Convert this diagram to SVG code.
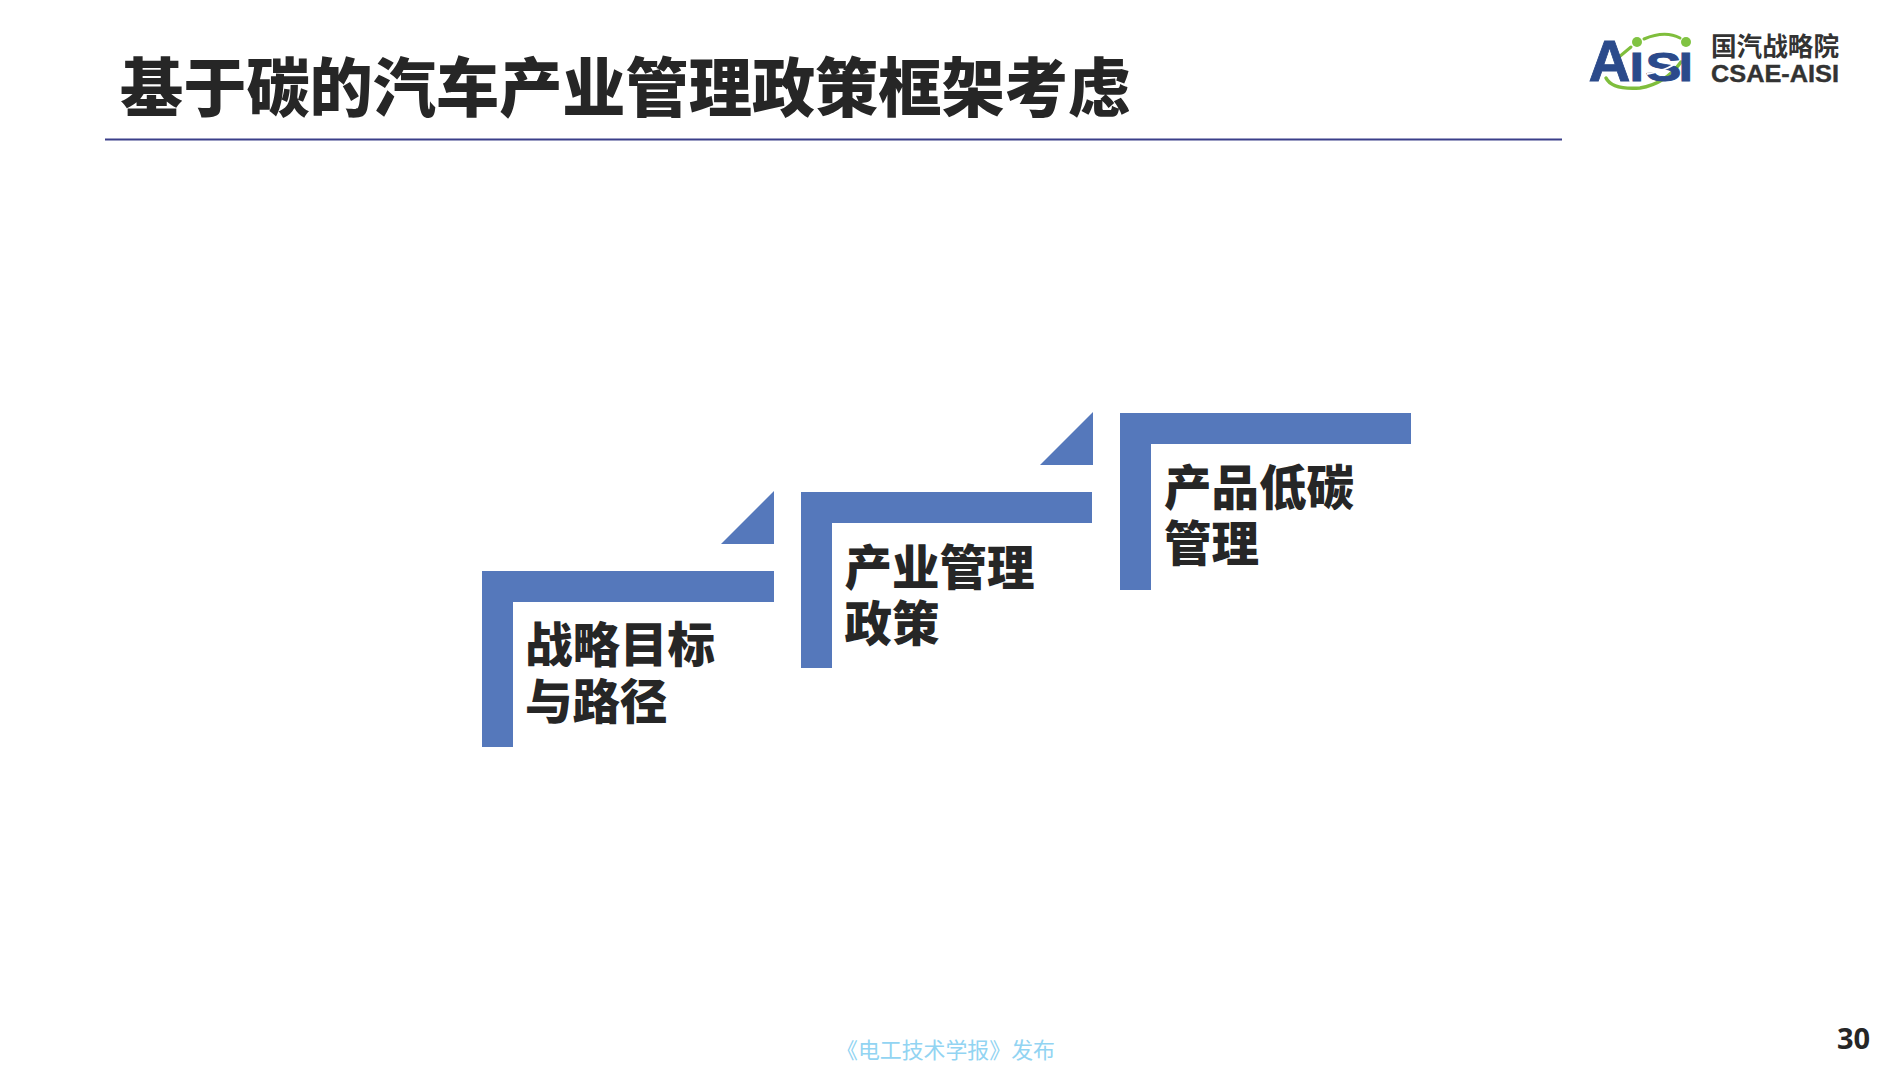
<svg xmlns="http://www.w3.org/2000/svg" width="1894" height="1065" viewBox="0 0 1894 1065">
<style>
.cjk{font-family:"Noto Sans CJK SC","Noto Sans",sans-serif}
.title{font-size:63.2px;font-weight:900;fill:#262626}
.label{font-size:47.5px;font-weight:900;fill:#262626}
.step{fill:#5578bb}
.foot{font-size:21.9px;fill:#92d4f2}
.mark{font-family:"Liberation Sans",Arial,sans-serif;font-weight:700;fill:#2b4a8b;stroke:#2b4a8b;stroke-width:.8}
.orbit{fill:none;stroke:#7fbe3c;stroke-linecap:round}
.dot{fill:#80c342}
</style>
<rect width="1894" height="1065" fill="#ffffff"/>
<g id="title">
<text class="cjk title" x="120" y="111">基于碳的汽车产业管理政策框架考虑</text>
<rect x="105" y="138.5" width="1457" height="2" fill="#3b3f8a"/>
</g>
<g id="logo">
<path class="orbit" stroke-width="3" d="M1619 57L1631 47M1644 39Q1665 30 1680 38"/>
<path class="orbit" stroke-width="3.5" d="M1606 78Q1612 90 1640 88Q1665 84 1681 62"/>
<text class="mark" x="1588.5" y="81" font-size="58" textLength="42" lengthAdjust="spacingAndGlyphs">A</text>
<text class="mark" x="1629.5" y="81" font-size="40" textLength="14.5" lengthAdjust="spacingAndGlyphs">I</text>
<text class="mark" x="1645.5" y="81" font-size="40" textLength="36" lengthAdjust="spacingAndGlyphs">S</text>
<text class="mark" x="1678.5" y="81" font-size="40" textLength="14.5" lengthAdjust="spacingAndGlyphs">I</text>
<path d="M1647 74Q1662 72 1675 64" fill="none" stroke="#ffffff" stroke-width="2"/>
<circle class="dot" cx="1637" cy="42" r="5"/>
<circle class="dot" cx="1686" cy="42" r="5"/>
<text class="cjk" x="1711" y="56" font-size="25.6" font-weight="700" fill="#333333">国汽战略院</text>
<text x="1711" y="82" font-family="Liberation Sans,Arial,sans-serif" font-size="24" font-weight="700" fill="#333333" stroke="#333333" stroke-width=".4" textLength="128" lengthAdjust="spacingAndGlyphs">CSAE-AISI</text>
</g>
<g id="node-strategy">
<path class="step" d="M482 571H774V602H513V747H482Z"/>
<path class="step" d="M774 491V544H721Z"/>
<text class="cjk label"><tspan x="525" y="662">战略目标</tspan><tspan x="525" y="719">与路径</tspan></text>
</g>
<g id="node-industry">
<path class="step" d="M801 492H1092V523H832V668H801Z"/>
<path class="step" d="M1093 412V465H1040Z"/>
<text class="cjk label"><tspan x="844.5" y="585">产业管理</tspan><tspan x="844.5" y="641">政策</tspan></text>
</g>
<g id="node-product">
<path class="step" d="M1120 413H1411V444H1151V590H1120Z"/>
<text class="cjk label"><tspan x="1164" y="505">产品低碳</tspan><tspan x="1164" y="561">管理</tspan></text>
</g>
<g id="connectors"/>
<text class="cjk foot" x="836" y="1058">《电工技术学报》发布</text>
<text x="1837" y="1049" font-family="Open Sans,Noto Sans,sans-serif" font-size="29" font-weight="700" fill="#262626">30</text>
</svg>
